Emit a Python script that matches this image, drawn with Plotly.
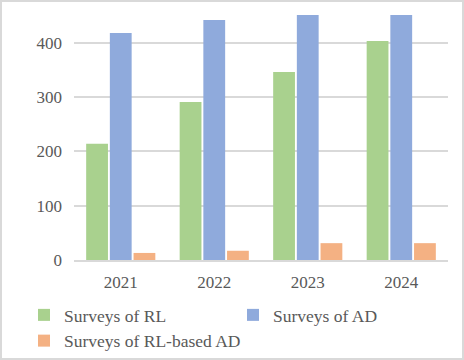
import plotly.graph_objects as go

years = ["2021", "2022", "2023", "2024"]
rl_surveys = [214, 291, 346, 403]
ad_surveys = [418, 442, 451, 451]
rl_ad_surveys = [13, 17, 31, 31]

colors = {"rl": "#a9d18e", "ad": "#8faadc", "rlad": "#f4b183"}

W, H = 464, 360
ml, mr, mt, mb = 74, 16, 15, 100
pw, ph = W - ml - mr, H - mt - mb
serif = "Liberation Serif, Times New Roman, serif"

fig = go.Figure(data=[
    go.Bar(name="Surveys of RL", x=years, y=rl_surveys, marker_color=colors["rl"]),
    go.Bar(name="Surveys of AD", x=years, y=ad_surveys, marker_color=colors["ad"]),
    go.Bar(name="Surveys of RL-based AD", x=years, y=rl_ad_surveys, marker_color=colors["rlad"]),
])

fig.update_traces(marker_line_width=0)

fig.update_layout(
    width=W, height=H,
    margin=dict(l=ml, r=mr, t=mt, b=mb, autoexpand=False),
    paper_bgcolor="white",
    plot_bgcolor="white",
    barmode="group",
    bargap=0.24,
    bargroupgap=0.08,
    font=dict(family=serif, color="#595959", size=16),
    legend=dict(
        orientation="h",
        x=(24 - ml) / pw, xanchor="left",
        y=-(297 - (H - mb)) / ph, yanchor="top",
        font=dict(family=serif, size=17.5, color="#595959"),
        entrywidth=164, entrywidthmode="pixels",
        itemwidth=30,
        tracegroupgap=0,
        bgcolor="rgba(0,0,0,0)",
    ),
    showlegend=True,
)

fig.update_xaxes(
    showgrid=False,
    showline=True, linecolor="#d9d9d9", linewidth=1.5,
    ticks="", ticklabelstandoff=6,
    tickfont=dict(family=serif, size=17, color="#595959"),
)
fig.update_yaxes(
    range=[0, 451],
    tickvals=[0, 100, 200, 300, 400],
    showgrid=True, gridcolor="#d9d9d9", gridwidth=1.5,
    zeroline=False, showline=False,
    ticks="", ticklabelstandoff=11,
    tickfont=dict(family=serif, size=17, color="#595959"),
)

# chart border (Excel style frame)
fig.add_shape(
    type="rect", xref="paper", yref="paper",
    x0=(-ml + 1) / pw, x1=1 + (mr - 1) / pw,
    y0=(-mb + 1) / ph, y1=1 + (mt - 1) / ph,
    line=dict(color="#d9d9d9", width=2),
    layer="below",
)

# drop the default page margin so the figure sits at the window's corner
fig.write_html(
    "out.html",
    config={"displayModeBar": False},
    post_script="document.body.style.margin='0';",
)
